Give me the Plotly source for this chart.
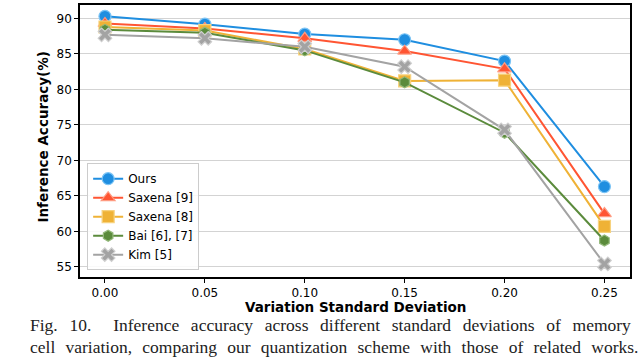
import plotly.graph_objects as go

# x: variation standard deviation
sigma = [0.00, 0.05, 0.10, 0.15, 0.20, 0.25]

# inference accuracy (%) per method
ours = [90.3, 89.2, 87.8, 87.0, 84.0, 66.3]
saxena9 = [89.3, 88.6, 87.2, 85.4, 82.9, 62.5]
saxena8 = [88.8, 88.3, 85.7, 81.2, 81.3, 60.7]
bai = [88.4, 88.0, 85.5, 81.0, 73.9, 58.7]
kim = [87.7, 87.2, 86.0, 83.2, 74.3, 55.4]

names = ['Ours', 'Saxena [9]', 'Saxena [8]', 'Bai [6], [7]', 'Kim [5]']
colors = ['#1f8ee0', '#ff5533', '#efb236', '#5b8b3c', '#a3a3a3']
edges = ['#7cc4f5', '#ff9a80', '#f7d27e', '#93b87a', '#cfcfcf']
symbols = ['circle', 'triangle-up', 'square', 'hexagon', 'x']
sizes = [12, 12, 12, 11, 12]

caption = [
    'Fig. 10.|Inference accuracy across different standard deviations of memory',
    'cell variation, comparing our quantization scheme with those of related works.',
]
# extra spacing between words to mimic the justified caption
gaps = ['\u00a0\u2004\u200a', '\u00a0\u2004']

fig = go.Figure()
for name, ys, c, e, s, sz in zip(names, [ours, saxena9, saxena8, bai, kim],
                                 colors, edges, symbols, sizes):
    fig.add_trace(go.Scatter(
        x=sigma, y=ys, name=name, mode='lines+markers',
        line=dict(color=c, width=2),
        marker=dict(symbol=s, size=sz, color=c, line=dict(color=e, width=1.2)),
    ))

fig.update_layout(
    width=640, height=361,
    margin=dict(l=80, r=10, t=3, b=84),
    paper_bgcolor='white', plot_bgcolor='white',
    font=dict(family='DejaVu Sans', size=12, color='black'),
    showlegend=True,
    legend=dict(x=0.013, y=0.025, xanchor='left', yanchor='bottom',
                bgcolor='rgba(255,255,255,0.85)', bordercolor='#cccccc', borderwidth=1,
                font=dict(size=12), tracegroupgap=0, itemwidth=30),
)
fig.update_xaxes(
    range=[-0.0125, 0.2628], tickvals=sigma, ticktext=[f'{v:.2f}' for v in sigma],
    showgrid=False, zeroline=False, showline=True, linecolor='black', linewidth=1.5,
    mirror=True, ticks='outside', ticklen=4, tickcolor='black',
)
fig.update_yaxes(
    range=[53.56, 91.9], tickvals=[55, 60, 65, 70, 75, 80, 85, 90],
    showgrid=True, gridcolor='#d3d3d3', gridwidth=1.2, zeroline=False,
    showline=True, linecolor='black', linewidth=1.5, mirror=True,
    ticks='outside', ticklen=4, tickcolor='black',
)

fig.add_annotation(text='<b>Variation Standard Deviation</b>', xref='paper', yref='paper',
                   x=0.5, y=-0.112, xanchor='center', yanchor='middle',
                   showarrow=False, font=dict(size=13.5))
fig.add_annotation(text='<b>Inference Accuracy(%)</b>', xref='paper', yref='paper',
                   x=-0.068, y=0.515, xanchor='center', yanchor='middle', textangle=-90,
                   showarrow=False, font=dict(size=13.5))
for i, (line, gap) in enumerate(zip(caption, gaps)):
    text = gap.join(line.split(' ')).replace('|', '\u00a0\u2002\u2002')
    fig.add_annotation(text=text, xref='paper', yref='paper',
                       x=-0.095, y=-0.178 - i * 0.08, xanchor='left', yanchor='middle',
                       showarrow=False,
                       font=dict(family='Liberation Serif', size=17.5, color='#222222'))

fig.write_html('out.html', config={'displayModeBar': False},
               post_script="document.body.style.margin='0';")
